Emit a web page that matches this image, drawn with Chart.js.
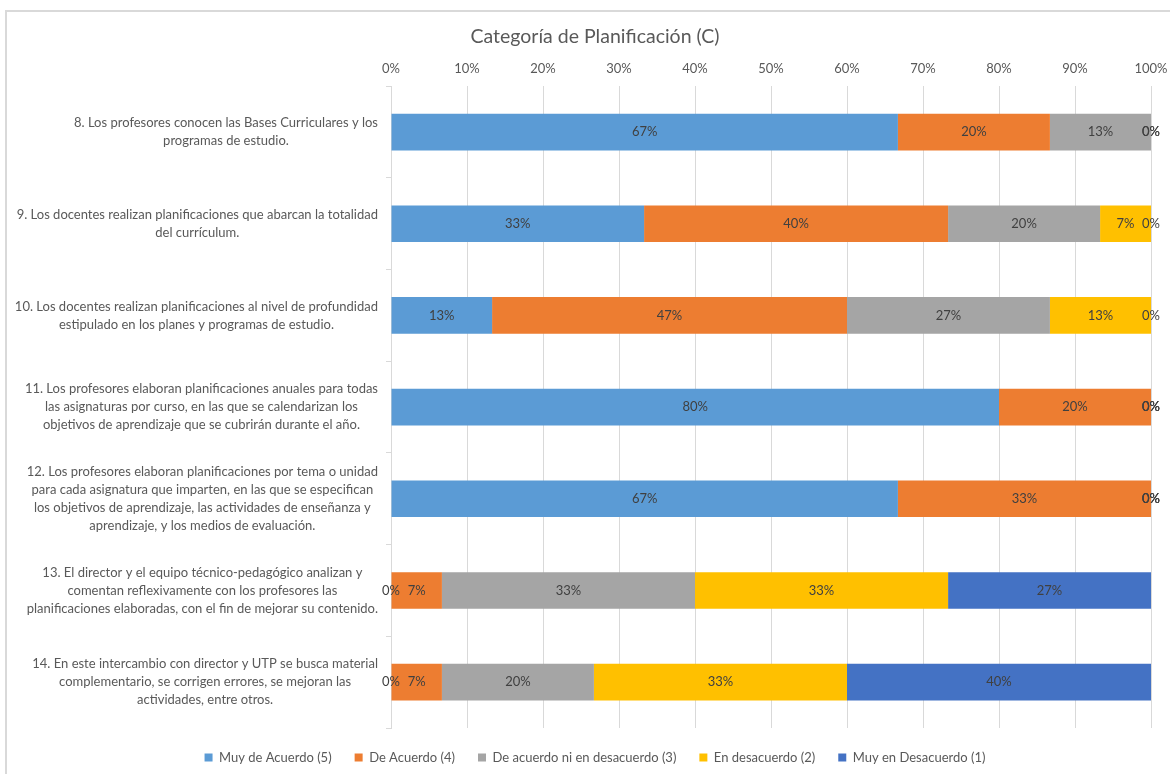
<!DOCTYPE html>
<html>
<head>
<meta charset="utf-8">
<script src="https://cdn.jsdelivr.net/npm/chart.js@4.4.1/dist/chart.umd.min.js"></script>
<style>
  html, body { margin: 0; padding: 0; background: #ffffff; overflow: hidden; }
  canvas { display: block; }
</style>
</head>
<body>
<canvas id="c" width="1170" height="774"></canvas>
<script>
// ---- Data ----
const chartTitle = 'Categoría de Planificación (C)';
const categories = [
  ['8. Los profesores conocen las Bases Curriculares y los', 'programas de estudio.'],
  ['9. Los docentes realizan planificaciones que abarcan la totalidad', 'del currículum.'],
  ['10. Los docentes realizan planificaciones al nivel de profundidad', 'estipulado en los planes y programas de estudio.'],
  ['11. Los profesores elaboran planificaciones anuales para todas', 'las asignaturas por curso, en las que se calendarizan los', 'objetivos de aprendizaje que se cubrirán durante el año.'],
  ['12. Los profesores elaboran planificaciones por tema o unidad', 'para cada asignatura que imparten, en las que se especifican', 'los objetivos de aprendizaje, las actividades de enseñanza y', 'aprendizaje, y los medios de evaluación.'],
  ['13. El director y el equipo técnico-pedagógico analizan y', 'comentan reflexivamente con los profesores las', 'planificaciones elaboradas, con el fin de mejorar su contenido.'],
  ['14. En este intercambio con director y UTP se busca material', 'complementario, se corrigen errores, se mejoran las', 'actividades, entre otros.']
];
const seriesNames = ['Muy de Acuerdo (5)', 'De Acuerdo (4)', 'De acuerdo ni en desacuerdo (3)', 'En desacuerdo (2)', 'Muy en Desacuerdo (1)'];
const muyDeAcuerdo   = [66.7, 33.3, 13.3, 80, 66.7, 0, 0];
const deAcuerdo      = [20, 40, 46.7, 20, 33.3, 6.7, 6.7];
const niAcuerdoNiDes = [13.3, 20, 26.7, 0, 0, 33.3, 20];
const enDesacuerdo   = [0, 6.7, 13.3, 0, 0, 33.3, 33.3];
const muyEnDesacuerdo = [0, 0, 0, 0, 0, 26.7, 40];
const xTickValues = [0, 10, 20, 30, 40, 50, 60, 70, 80, 90, 100];

// ---- Styles ----
const colors = ['#5B9BD5', '#ED7D31', '#A5A5A5', '#FFC000', '#4472C4'];
const FONT = 'Lato';
Chart.defaults.font.family = FONT;
Chart.defaults.color = '#595959';

const seriesValues = [muyDeAcuerdo, deAcuerdo, niAcuerdoNiDes, enDesacuerdo, muyEnDesacuerdo];

const frame = {
  id: 'frame',
  beforeDraw(chart) {
    const ctx = chart.ctx;
    ctx.save();
    ctx.fillStyle = '#ffffff';
    ctx.fillRect(0, 0, chart.width, chart.height);
    ctx.fillStyle = '#d9d9d9';
    ctx.fillRect(5, 10, chart.width - 5, 2);
    ctx.fillRect(5, 10, 2, chart.height - 10);
    ctx.restore();
  }
};

const categoryLabels = {
  id: 'categoryLabels',
  afterDraw(chart) {
    const ctx = chart.ctx;
    const scale = chart.scales.y;
    const lh = 18;
    ctx.save();
    ctx.font = '13px ' + FONT;
    ctx.fillStyle = '#595959';
    ctx.textAlign = 'center';
    ctx.textBaseline = 'middle';
    const right = scale.right - 13;
    categories.forEach((lines, i) => {
      const ty = scale.getPixelForTick(i);
      const w = Math.max(...lines.map(l => ctx.measureText(l).width));
      const cx = right - w / 2;
      const y0 = ty - (lines.length - 1) * lh / 2;
      lines.forEach((l, k) => ctx.fillText(l, cx, y0 + k * lh));
    });
    ctx.restore();
  }
};

const valueLabels = {
  id: 'valueLabels',
  afterDatasetsDraw(chart) {
    const ctx = chart.ctx;
    ctx.save();
    ctx.font = '13px ' + FONT;
    ctx.fillStyle = '#404040';
    ctx.textAlign = 'center';
    ctx.textBaseline = 'middle';
    chart.data.datasets.forEach((ds, di) => {
      const meta = chart.getDatasetMeta(di);
      meta.data.forEach((el, i) => {
        const v = ds.data[i];
        const cx = (el.x + el.base) / 2;
        ctx.fillText(Math.round(v) + '%', cx, el.y);
      });
    });
    ctx.restore();
  }
};

new Chart(document.getElementById('c'), {
  type: 'bar',
  data: {
    labels: categories,
    datasets: seriesNames.map((name, i) => ({
      label: name,
      data: seriesValues[i],
      backgroundColor: colors[i],
      borderWidth: 0,
      categoryPercentage: 1,
      barPercentage: 0.4
    }))
  },
  options: {
    indexAxis: 'y',
    responsive: false,
    animation: false,
    layout: { padding: { top: 10, left: 20, right: 0, bottom: 0 } },
    plugins: {
      title: {
        display: true,
        text: chartTitle,
        color: '#595959',
        font: { size: 19.5, weight: 'normal' },
        padding: { top: 15, bottom: 8 }
      },
      legend: {
        position: 'bottom',
        labels: {
          boxWidth: 8,
          boxHeight: 8,
          padding: 23,
          color: '#595959',
          font: { size: 13 }
        }
      },
      tooltip: { enabled: false }
    },
    scales: {
      x: {
        position: 'top',
        stacked: true,
        min: 0,
        max: 100,
        afterBuildTicks(s) { s.ticks = xTickValues.map(v => ({ value: v })); },
        afterFit(s) { s.height = 29.8; s.paddingRight = 0; s.paddingLeft = 0; },
        ticks: {
          callback: v => v + '%',
          color: '#595959',
          font: { size: 13 },
          padding: 10,
          maxRotation: 0
        },
        grid: { color: '#d9d9d9', drawTicks: false },
        border: { display: false }
      },
      y: {
        stacked: true,
        ticks: { display: false },
        grid: { drawOnChartArea: false, drawTicks: true, tickLength: 5, color: '#d9d9d9', offset: true },
        border: { display: true, color: '#d9d9d9' },
        afterFit(s) { s.width = 371; }
      },
      yR: {
        type: 'linear',
        position: 'right',
        display: true,
        ticks: { display: false },
        grid: { display: false },
        border: { display: false },
        afterFit(s) { s.width = 19; }
      }
    }
  },
  plugins: [frame, categoryLabels, valueLabels]
});
</script>
</body>
</html>
